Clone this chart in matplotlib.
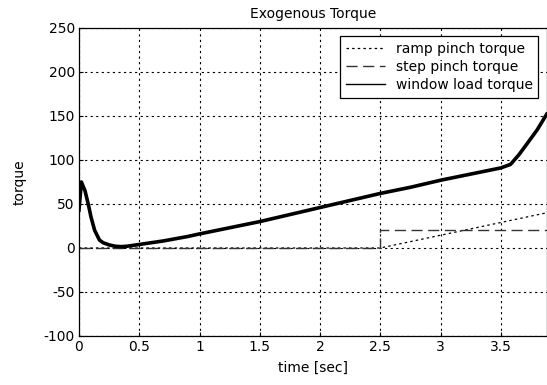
import numpy as np
import matplotlib
matplotlib.use("Agg")
import matplotlib.pyplot as plt

plt.rcParams['font.family'] = ['DejaVu Sans']
plt.rcParams['axes.unicode_minus'] = False

# window load torque
load_t = [0, 0.02, 0.05, 0.08, 0.1, 0.13, 0.17, 0.2, 0.25, 0.3, 0.35, 0.4,
          0.5, 0.6, 0.7, 0.8, 0.9, 1.0, 1.25, 1.5, 1.75, 2.0, 2.25, 2.5,
          2.75, 3.0, 3.25, 3.5, 3.58, 3.65, 3.72, 3.8, 3.88]
load_v = [43, 75, 65, 48, 35, 20, 9, 6, 3.5, 2, 1.5, 2,
          4, 6, 8, 10.5, 13, 16, 23, 30, 38, 46, 54, 62,
          69, 77, 84, 91, 95, 106, 119, 134, 152]

# pinch torques
ramp_t = [0, 2.5, 3.88]
ramp_v = [0, 0, 40]
step_t = [0, 2.5, 2.5, 3.88]
step_v = [0, 0, 20, 20]

xticks = [0, 0.5, 1, 1.5, 2, 2.5, 3, 3.5]
xtick_labels = ["0", "0.5", "1", "1.5", "2", "2.5", "3", "3.5"]
yticks = [-100, -50, 0, 50, 100, 150, 200, 250]

fig = plt.figure(figsize=(5.47, 3.85), dpi=100)
ax = fig.add_axes([0.1444, 0.1273, 0.855, 0.8])

ax.plot(ramp_t, ramp_v, color='black', lw=0.9, linestyle=(0, (2, 2.5)),
        label='ramp pinch torque')
ax.plot(step_t, step_v, color='#333333', lw=1.0, linestyle=(0, (8, 4)),
        label='step pinch torque')
ax.plot(load_t, load_v, color='black', lw=2.6, solid_joinstyle='round',
        label='window load torque')

ax.set_xlim(0, 3.88)
ax.set_ylim(-100, 250)
ax.set_xticks(xticks)
ax.set_xticklabels(xtick_labels)
ax.set_yticks(yticks)
ax.tick_params(direction='in', length=3, labelsize=10, pad=3)
ax.grid(True, color='black', linestyle=(0, (2, 3)), lw=0.8)
for s in ax.spines.values():
    s.set_linewidth(0.9)

ax.set_title('Exogenous Torque', fontsize=10, pad=7)
ax.set_xlabel('time [sec]', fontsize=10, labelpad=5)
ax.set_ylabel('torque', fontsize=10, labelpad=12)

leg = ax.legend(loc='upper right', fontsize=10, frameon=True, fancybox=False,
                edgecolor='black', framealpha=1, borderaxespad=0.6,
                handlelength=2.8, handletextpad=0.8, labelspacing=0.3,
                borderpad=0.4)
leg.get_frame().set_linewidth(0.9)
# thinner handle for the load line in the legend
leg.get_lines()[2].set_linewidth(1.0)

fig.savefig('out.png', dpi=100)
